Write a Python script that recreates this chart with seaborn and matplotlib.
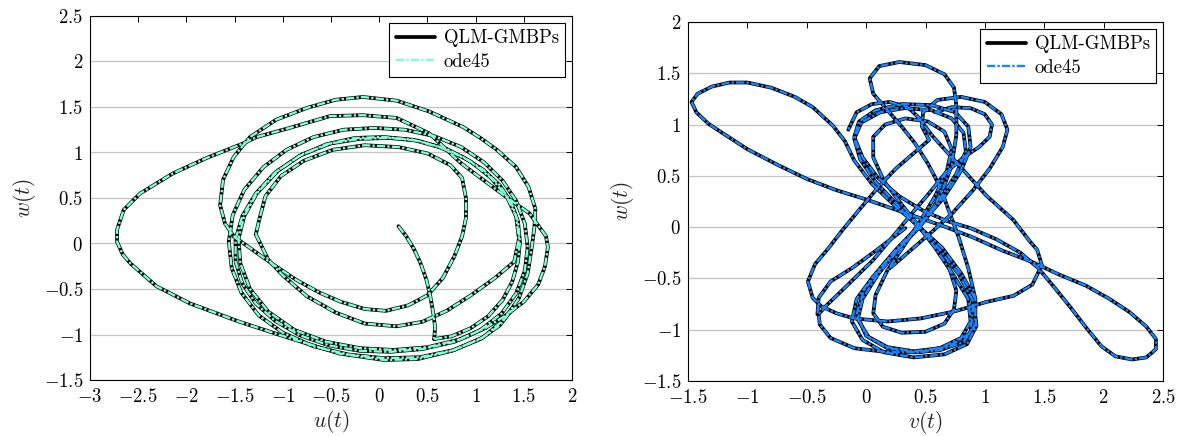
import numpy as np
import pandas as pd
import matplotlib
matplotlib.use("Agg")
import matplotlib.pyplot as plt
from matplotlib.lines import Line2D
import seaborn as sns

# ---------------- data ----------------
# Left panel: (u, w) strokes of the trajectory
left_start = [(0.20,0.19),(0.28,0.08),(0.36,-0.06),(0.43,-0.22),(0.49,-0.40),(0.53,-0.58),
              (0.56,-0.76),(0.58,-0.92),(0.57,-1.05)]
left_band_a = [(0.57,-1.05),(0.75,-1.02),(0.95,-0.93),(1.13,-0.80),(1.28,-0.62),(1.38,-0.42),(1.44,-0.20),
               (1.46,0.02),(1.44,0.24),(1.37,0.45),(1.25,0.64),(1.08,0.81),(0.87,0.95),(0.62,1.06),
               (0.35,1.14),(0.05,1.17),(-0.25,1.16),(-0.55,1.09),(-0.83,0.96),(-1.08,0.78),(-1.28,0.55),
               (-1.42,0.30),(-1.49,0.05),(-1.49,-0.20),(-1.42,-0.44),(-1.28,-0.66),(-1.08,-0.85),
               (-0.82,-1.01),(-0.52,-1.12),(-0.20,-1.18),(0.12,-1.19),(0.45,-1.16),(0.78,-1.08),(1.05,-0.95)]
left_band_b = [(1.05,-0.95),(1.27,-0.77),(1.42,-0.55),(1.51,-0.30),(1.54,-0.04),(1.51,0.22),(1.42,0.47),
               (1.28,0.69),(1.09,0.89),(0.85,1.06),(0.57,1.18),(0.27,1.25),(-0.05,1.27),(-0.37,1.25),
               (-0.68,1.17),(-0.96,1.03),(-1.20,0.84),(-1.40,0.59),(-1.52,0.31),(-1.56,0.02),
               (-1.53,-0.27),(-1.43,-0.54),(-1.25,-0.79),(-1.00,-0.98),(-0.68,-1.13),(-0.32,-1.22),
               (0.05,-1.26),(0.42,-1.25),(0.78,-1.17),(1.08,-1.03)]
left_arc_top = [(1.08,-1.03),(1.30,-0.83),(1.45,-0.60),(1.54,-0.33),(1.58,-0.06),(1.61,0.18),(1.62,0.38),
                (1.55,0.62),(1.42,0.84),(1.22,1.03),(1.05,1.16),(0.87,1.28),(0.52,1.45),(0.18,1.57),
                (-0.17,1.61),(-0.45,1.58),(-0.75,1.49),(-1.07,1.36),(-1.34,1.17),(-1.51,0.95),
                (-1.62,0.70),(-1.65,0.42),(-1.60,0.22),(-1.51,0.08)]
left_inner_a = [(-1.51,0.08),(-1.30,-0.08),(-1.10,-0.23),(-0.86,-0.40),(-0.62,-0.54),(-0.40,-0.64),
                (-0.15,-0.72),(0.07,-0.74),(0.30,-0.68),(0.50,-0.57),(0.66,-0.38),(0.78,-0.14),
                (0.86,0.08),(0.90,0.28),(0.90,0.50),(0.86,0.72),(0.74,0.86),(0.50,0.99),(0.20,1.06),
                (-0.15,1.08),(-0.48,1.03),(-0.78,0.91),(-1.02,0.74),(-1.18,0.52),(-1.24,0.28),(-1.28,0.10)]
left_inner_b = [(-1.28,0.10),(-1.15,-0.18),(-1.00,-0.35),(-0.75,-0.58),(-0.45,-0.76),(-0.15,-0.88),
                (0.18,-0.91),(0.45,-0.86),(0.70,-0.74),(0.95,-0.57),(1.20,-0.38),(1.40,-0.20),
                (1.45,0.05),(1.42,0.30),(1.32,0.52),(1.16,0.72),(0.95,0.90),(0.70,1.04),(0.40,1.13),
                (0.10,1.16),(-0.20,1.15),(-0.50,1.10),(-0.80,0.98),(-1.05,0.80),(-1.27,0.55),(-1.40,0.30),
                (-1.46,0.05),(-1.44,-0.22),(-1.34,-0.50),(-1.15,-0.75),(-0.88,-0.95),(-0.55,-1.08),
                (-0.20,-1.15),(0.15,-1.17),(0.50,-1.14),(0.85,-1.05),(1.10,-0.93)]
left_outer = [(1.10,-0.93),(1.30,-0.80),(1.50,-0.64),(1.65,-0.45),(1.72,-0.25),(1.75,-0.04),(1.73,0.08),
              (1.56,0.33),(1.32,0.51),(1.04,0.73),(0.84,0.89),(0.70,1.03),(0.52,1.21),(0.18,1.38),
              (-0.17,1.41),(-0.51,1.40),(-0.93,1.27),(-1.27,1.17),(-1.41,1.10),(-1.79,0.94),
              (-2.14,0.77),(-2.48,0.55),(-2.65,0.37),(-2.72,0.15),(-2.72,0.02),(-2.66,-0.12),
              (-2.58,-0.22),(-2.31,-0.47),(-1.96,-0.66),(-1.45,-0.86),(-0.93,-1.04),(-0.41,-1.21),
              (0.05,-1.28),(0.40,-1.27),(0.75,-1.18),(1.05,-1.05),(1.25,-0.90),(1.38,-0.72)]

# Right panel: (v, w) strokes of the trajectory
right_lobes = [(0.92,-0.70),(0.80,-0.45),(0.64,-0.20),(0.45,0.00),(0.25,0.20),(0.05,0.42),(-0.10,0.65),
               (-0.18,0.84),(-0.28,0.99),(-0.45,1.17),(-0.60,1.27),(-0.80,1.36),(-1.00,1.41),(-1.15,1.41),
               (-1.30,1.37),(-1.42,1.30),(-1.47,1.22),(-1.43,1.12),(-1.33,1.01),(-1.20,0.91),(-1.00,0.76),
               (-0.75,0.61),(-0.50,0.47),(-0.25,0.36),(0.00,0.27),(0.20,0.19),(0.40,0.11),(0.65,0.01),
               (0.90,-0.10),(1.15,-0.23),(1.40,-0.34),(1.62,-0.46),(1.85,-0.57),(2.05,-0.70),(2.22,-0.83),
               (2.36,-0.97),(2.44,-1.09),(2.44,-1.19),(2.36,-1.27),(2.24,-1.29),(2.10,-1.26),(1.98,-1.16),
               (1.86,-0.99),(1.72,-0.78),(1.58,-0.58),(1.45,-0.40),(1.30,-0.25),(1.10,-0.12),(0.88,-0.01),
               (0.68,0.06),(0.48,0.16),(0.28,0.30),(0.10,0.48),(-0.03,0.68),(-0.10,0.88),(-0.06,1.03),
               (0.08,1.14),(0.30,1.20),(0.55,1.19),(0.75,1.12),(0.86,0.98),(0.88,0.78),(0.80,0.55),
               (0.65,0.28),(0.45,0.02),(0.25,-0.22),(0.06,-0.48),(-0.08,-0.70),(-0.12,-0.92),
               (-0.03,-1.10),(0.15,-1.22),(0.40,-1.27),(0.66,-1.24),(0.85,-1.14),(0.93,-0.96),(0.90,-0.72)]
right_eight_a = [(0.90,-0.72),(0.78,-0.46),(0.62,-0.22),(0.45,-0.01),(0.27,0.21),(0.08,0.44),(-0.05,0.66),
                 (-0.10,0.86),(-0.04,1.02),(0.12,1.12),(0.32,1.16),(0.55,1.14),(0.72,1.06),(0.82,0.92),
                 (0.84,0.74),(0.76,0.52),(0.62,0.27),(0.45,0.02),(0.27,-0.22),(0.10,-0.46),(-0.03,-0.70),
                 (-0.07,-0.90),(0.02,-1.07),(0.18,-1.17),(0.40,-1.21),(0.62,-1.18),(0.80,-1.08),
                 (0.88,-0.92),(0.86,-0.70)]
right_eight_b = [(0.86,-0.70),(0.72,-0.44),(0.58,-0.20),(0.45,0.00),(0.30,0.22),(0.15,0.45),(0.06,0.68),
                 (0.06,0.88),(0.16,1.00),(0.33,1.06),(0.52,1.03),(0.66,0.93),(0.72,0.76),(0.68,0.55),
                 (0.58,0.30),(0.45,0.05),(0.32,-0.18),(0.18,-0.42),(0.08,-0.66),(0.06,-0.84),(0.14,-0.97),
                 (0.30,-1.03),(0.50,-1.02),(0.66,-0.94),(0.74,-0.80),(0.76,-0.62),(0.70,-0.40)]
right_top_loop = [(0.45,0.00),(0.55,0.15),(0.65,0.38),(0.72,0.60),(0.76,0.90),(0.76,1.18),(0.74,1.36),
                  (0.66,1.49),(0.50,1.58),(0.28,1.61),(0.11,1.57),(0.03,1.45),(0.06,1.30),(0.18,1.14),
                  (0.30,0.98),(0.41,0.82),(0.52,0.62),(0.62,0.40),(0.70,0.15),(0.78,-0.10),(0.86,-0.40),
                  (0.92,-0.70),(0.92,-0.95),(0.82,-1.12),(0.62,-1.20),(0.40,-1.22),(0.18,-1.18),
                  (0.00,-1.06),(-0.08,-0.85),(-0.02,-0.62),(0.15,-0.36),(0.35,-0.12),(0.45,0.00)]
right_side_loops = [(0.20,-0.40),(0.38,-0.22),(0.56,-0.04),(0.73,0.14),(0.90,0.36),(1.04,0.57),
                    (1.15,0.78),(1.19,0.95),(1.14,1.10),(1.00,1.22),(0.80,1.27),(0.60,1.24),(0.48,1.12),
                    (0.47,0.98),(0.53,0.85),(0.40,0.72),(0.25,0.57),(0.11,0.40),(-0.05,0.18),(-0.20,-0.03),
                    (-0.32,-0.21),(-0.43,-0.36),(-0.49,-0.53),(-0.45,-0.69),(-0.38,-0.77),(-0.25,-0.84),
                    (-0.10,-0.89),(0.18,-0.92),(0.46,-0.89),(0.75,-0.82),(1.01,-0.73),(1.24,-0.67),
                    (1.40,-0.56),(1.48,-0.37),(1.44,-0.22),(1.38,-0.14),(1.24,0.07),(1.01,0.31),
                    (0.73,0.67),(0.55,0.90),(0.45,1.06),(0.35,1.17),(0.20,1.22),(0.05,1.20),(-0.08,1.12),
                    (-0.15,0.95)]
right_low_loop = [(0.90,-0.75),(0.88,-1.03),(0.70,-1.16),(0.45,-1.22),(0.19,-1.22),(-0.10,-1.18),
                  (-0.30,-1.08),(-0.39,-0.95),(-0.40,-0.85),(-0.34,-0.77),(-0.17,-0.58),(0.06,-0.32),
                  (0.22,-0.10),(0.39,0.14),(0.53,0.33),(0.67,0.53),(0.82,0.68),(0.95,0.78),(1.04,0.88),
                  (1.06,1.00),(1.00,1.10),(0.88,1.16),(0.72,1.17),(0.58,1.12)]
right_mid_loop = [(0.33,-0.01),(0.07,-0.24),(-0.12,-0.40),(-0.30,-0.53),(-0.40,-0.69),(-0.41,-0.85)]

left_strokes = [left_start, left_band_a, left_band_b, left_arc_top, left_inner_a, left_inner_b, left_outer]
right_strokes = [right_lobes, right_eight_a, right_eight_b, right_top_loop, right_side_loops,
                 right_low_loop, right_mid_loop]

legend_labels = ["QLM-GMBPs", "ode45"]
left_color = "#7fffd4"
right_color = "#1a85ff"

# ---------------- style ----------------
sns.set_style("white")
plt.rcParams["font.family"] = ["cmr10", "DejaVu Serif"]
plt.rcParams["mathtext.fontset"] = "cm"
plt.rcParams["axes.formatter.use_mathtext"] = True
plt.rcParams["axes.unicode_minus"] = True

fig = plt.figure(figsize=(11.82, 4.36), dpi=100)
ax1 = fig.add_axes([90/1182, 56/436, 482/1182, 364/436])
ax2 = fig.add_axes([688/1182, 55/436, 475/1182, 359/436])

DASH = (0, (3.5, 0.9, 1.0, 0.9))


def to_frame(strokes):
    rows = []
    for k, s in enumerate(strokes):
        for i, (a, b) in enumerate(s):
            rows.append({"x": a, "y": b, "seg": k, "i": i})
    return pd.DataFrame(rows)


def draw(ax, strokes, color, xlim, ylim, xlabel):
    df = to_frame(strokes)
    sns.lineplot(data=df, x="x", y="y", units="seg", estimator=None, sort=False,
                 color="black", lw=2.7, ax=ax, legend=False,
                 solid_joinstyle="round", solid_capstyle="round")
    sns.lineplot(data=df, x="x", y="y", units="seg", estimator=None, sort=False,
                 color=color, lw=1.7, linestyle=DASH, ax=ax, legend=False,
                 dash_joinstyle="round")
    ax.set_xlim(*xlim)
    ax.set_ylim(*ylim)
    xt = np.arange(xlim[0], xlim[1] + 0.01, 0.5)
    yt = np.arange(ylim[0], ylim[1] + 0.01, 0.5)
    ax.set_xticks(xt)
    ax.set_yticks(yt)
    ax.set_xticklabels([f"${t:g}$" for t in xt])
    ax.set_yticklabels([f"${t:g}$" for t in yt])
    ax.yaxis.grid(True, color="#c4c4c4", lw=0.9)
    ax.xaxis.grid(False)
    ax.set_axisbelow(True)
    ax.tick_params(direction="in", top=True, right=True, length=4, width=0.7,
                   labelsize=13.5, colors="black")
    ax.tick_params(axis="x", pad=6)
    ax.tick_params(axis="y", pad=5)
    for sp in ax.spines.values():
        sp.set_color("black")
        sp.set_linewidth(0.8)
    ax.set_xlabel(xlabel, fontsize=15.5, labelpad=1)
    ax.set_ylabel(r"$w(t)$", fontsize=15.5, labelpad=4)
    handles = [Line2D([], [], color="black", lw=2.7),
               Line2D([], [], color=color, lw=1.7, linestyle=DASH)]
    leg = ax.legend(handles, legend_labels, loc="upper right", fontsize=13.5,
                    frameon=True, fancybox=False, framealpha=1, edgecolor="black",
                    handlelength=2.1, handletextpad=0.45, borderpad=0.35,
                    labelspacing=0.3, borderaxespad=0.35)
    leg.get_frame().set_linewidth(0.8)
    for t in leg.get_texts():
        t.set_color("black")


draw(ax1, left_strokes, left_color, (-3, 2), (-1.5, 2.5), r"$u(t)$")
draw(ax2, right_strokes, right_color, (-1.5, 2.5), (-1.5, 2.0), r"$v(t)$")

fig.savefig("out.png", dpi=100)
